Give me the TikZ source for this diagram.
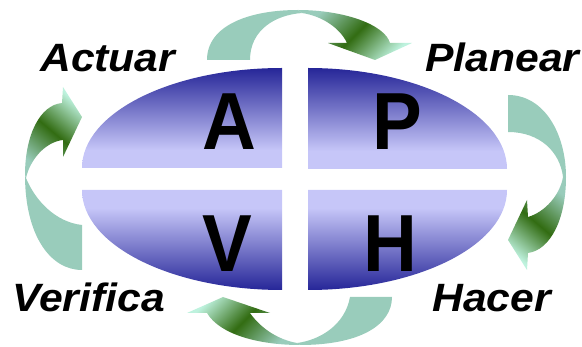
\documentclass[tikz,border=0pt]{standalone}
\usepackage{fontspec}
\setmainfont{Liberation Sans}
\newfontfamily\quadfont[FakeStretch=0.92]{Liberation Sans}
\newfontfamily\stepfont[FakeStretch=1.08]{Liberation Sans}
\usetikzlibrary{positioning}

\definecolor{pdcaDark}{RGB}{38,38,152}
\definecolor{pdcaLight}{RGB}{198,198,248}
\definecolor{ribbonTeal}{RGB}{153,204,187}
\definecolor{ribbonGreen}{RGB}{50,108,18}
\definecolor{ribbonMint}{RGB}{190,242,222}

\pgfdeclareverticalshading{quadUp}{100bp}{color(0bp)=(pdcaLight); color(34bp)=(pdcaLight); color(75bp)=(pdcaDark); color(100bp)=(pdcaDark)}
\pgfdeclareverticalshading{quadDown}{100bp}{color(0bp)=(pdcaDark); color(25bp)=(pdcaDark); color(66bp)=(pdcaLight); color(100bp)=(pdcaLight)}
\pgfdeclareverticalshading{ribbonGrad}{100bp}{color(0bp)=(ribbonMint); color(25bp)=(ribbonMint); color(50bp)=(ribbonGreen); color(75bp)=(ribbonTeal); color(100bp)=(ribbonTeal)}

\begin{document}
\begin{tikzpicture}[
    x=1pt, y=-1pt,
    quadUpper/.style={shading=quadUp, draw=none},
    quadLower/.style={shading=quadDown, draw=none},
    ribbonBack/.style={fill=ribbonTeal, draw=none},
    ribbonFront/.style={shading=ribbonGrad, draw=none},
    letter/.style={font=\quadfont\bfseries\fontsize{81}{81}\selectfont, inner sep=0pt, anchor=base},
    stepLabel/.style={font=\stepfont\bfseries\itshape\fontsize{39.5}{39.5}\selectfont, inner sep=0pt, anchor=base west},
  ]

\useasboundingbox (0,0) rectangle (582,347);

% ---- four quarters of the ellipse ------------------------------------
\shade[quadUpper] (282,168) -- (82,168)
      arc[start angle=180, end angle=270, x radius=200, y radius=100] -- cycle;
\shade[quadUpper] (308,169) -- (308,68)
      arc[start angle=270, end angle=360, x radius=199, y radius=101] -- cycle;
\shade[quadLower] (282,190) -- (82,190)
      arc[start angle=180, end angle=90, x radius=200, y radius=100] -- cycle;
\shade[quadLower] (308,190) -- (308,290)
      arc[start angle=90, end angle=0, x radius=199, y radius=100] -- cycle;

% ---- letters -----------------------------------------------------------
\node[letter] (letA) at (229.5,150) {A};
\node[letter] (letP) at (397,150) {P};
\node[letter] (letV) at (227,272) {V};
\node[letter] (letH) at (390.5,272) {H};

% ---- top ribbon (Actuar -> Planear) -------------------------------------
\fill[ribbonBack] (207,60) .. controls (207,25) and (250,10) .. (298,10)
      -- (302,13) .. controls (275,15) and (250,30) .. (250,60) -- cycle;
\shade[ribbonFront, shading angle=45] (298,10) .. controls (345,10) and (385,25) .. (390,43)
      -- (412,43) -- (375,60) -- (328,43) -- (347,43)
      .. controls (340,28) and (322,16) .. (302,13) -- cycle;

% ---- right ribbon (Planear -> Hacer) -------------------------------------
\fill[ribbonBack] (508,95) .. controls (545,95) and (566,135) .. (566,177)
      -- (563,177) .. controls (560,152) and (540,132) .. (508,132) -- cycle;
\shade[ribbonFront, shading angle=-40] (566,177) .. controls (566,220) and (550,250) .. (528,253)
      -- (527,270) -- (508,240) -- (527,200) -- (528,217)
      .. controls (545,212) and (560,195) .. (563,177) -- cycle;

% ---- bottom ribbon (Hacer -> Verifica) -----------------------------------
\fill[ribbonBack] (392,297) .. controls (392,325) and (360,345) .. (300,345)
      -- (297,343) .. controls (320,340) and (345,325) .. (350,297) -- cycle;
\shade[ribbonFront, shading angle=225] (300,345) .. controls (260,345) and (220,335) .. (207,313)
      -- (187,313) -- (223,297) -- (270,313) -- (250,313)
      .. controls (262,330) and (280,340) .. (297,343) -- cycle;

% ---- left ribbon (Verifica -> Actuar) ------------------------------------
\fill[ribbonBack] (25,175) .. controls (25,235) and (50,270) .. (82,270)
      -- (82,225) .. controls (55,222) and (35,200) .. (26,178) -- cycle;
\shade[ribbonFront, shading angle=140] (25,175) .. controls (25,135) and (40,105) .. (62,103)
      -- (63,87) -- (82,117) -- (63,157) -- (63,140)
      .. controls (45,142) and (30,160) .. (26,178) -- cycle;

% ---- step names --------------------------------------------------------
\node[stepLabel] (actuar) at (40,72) {Actuar};
\node[stepLabel] (planear) at (425,72) {Planear};
\node[stepLabel] (verifica) at (12,312) {Verifica};
\node[stepLabel] (hacer) at (432,312) {Hacer};

\end{tikzpicture}
\end{document}
